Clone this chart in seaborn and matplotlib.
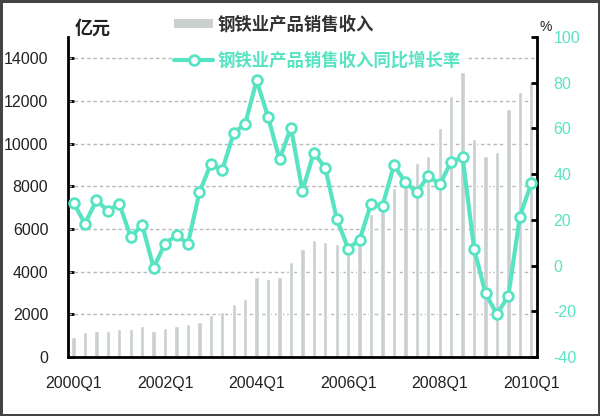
import numpy as np
import pandas as pd
import matplotlib
matplotlib.use("Agg")
import matplotlib.pyplot as plt
from matplotlib.lines import Line2D
from matplotlib.patches import Patch
import seaborn as sns

# datos (trimestral 2000Q1 - 2010Q1)
trimestres = [f"{a}Q{q}" for a in range(2000, 2011) for q in range(1, 5)][:41]
ingresos = [950, 1190, 1200, 1200, 1300, 1300, 1460, 1220, 1360, 1470,
            1540, 1630, 1950, 2100, 2460, 2720, 3740, 3670, 3740, 4430,
            5060, 5480, 5380, 5300, 5250, 5500, 6700, 7200, 7900, 8300,
            9100, 9420, 10730, 12240, 13400, 10200, 9430, 9600, 11610, 12440,
            12870]
crecimiento = [27.5, 18.3, 28.5, 24.0, 27.0, 12.5, 17.8, -1.0, 9.6, 13.2,
               9.6, 32.0, 44.5, 41.8, 58.0, 62.0, 81.0, 65.0, 46.5, 60.3,
               32.7, 49.4, 42.7, 20.4, 7.4, 11.3, 27.0, 26.2, 43.8, 36.5,
               32.0, 39.3, 35.5, 45.3, 47.5, 7.4, -12.2, -21.3, -13.2, 21.4,
               36.0]
etiquetas_x = ["2000Q1", "2002Q1", "2004Q1", "2006Q1", "2008Q1", "2010Q1"]
ticks_izq = [0, 2000, 4000, 6000, 8000, 10000, 12000, 14000]
ticks_der = [-40, -20, 0, 20, 40, 60, 80, 100]

nombre_barra = "钢铁业产品销售收入"
nombre_linea = "钢铁业产品销售收入同比增长率"

df = pd.DataFrame({"trimestre": trimestres, "ingresos": ingresos,
                   "crecimiento": crecimiento})
df["pos"] = np.arange(len(df))

sns.set_style("white")
plt.rcParams["font.family"] = ["Liberation Sans Narrow", "Liberation Sans", "DejaVu Sans"]
cjk = ["Noto Sans CJK SC", "DejaVu Sans"]

gris = "#cacfcf"
turquesa = "#58e3c3"

fig = plt.figure(figsize=(6.0, 4.16), dpi=100)
fig.patch.set_edgecolor("#444444")
fig.patch.set_linewidth(2.5)
ax = fig.add_axes([0.113, 0.142, 0.782, 0.769])

sns.barplot(data=df, x="trimestre", y="ingresos", color=gris, width=0.38,
            saturation=1, ax=ax, zorder=2)
ax.set_xlim(-0.5, len(df) - 0.5)
ax.set_ylim(0, 15000)
ax.set_yticks(ticks_izq)
ax.set_yticklabels([str(t) for t in ticks_izq], fontsize=11.5, color="#222222")
ax.set_xticks([trimestres.index(e) for e in etiquetas_x])
ax.set_xticklabels(etiquetas_x, fontsize=11.5, color="#222222")
ax.set_xlabel("")
ax.set_ylabel("")
for t in ticks_izq[1:]:
    ax.axhline(t, color="#b8b8b8", linestyle=(0, (2.5, 2)), linewidth=1.0, zorder=1)
ax.tick_params(axis="y", direction="in", length=4, width=2, color="black", pad=14)
ax.tick_params(axis="x", direction="in", length=0, pad=14)
ax.set_xticks(np.arange(1.5, len(df), 2), minor=True)
ax.tick_params(axis="x", which="minor", direction="in", length=3, width=2, color="black")
for lado in ["left", "bottom"]:
    ax.spines[lado].set_linewidth(2)
    ax.spines[lado].set_color("black")
ax.spines["top"].set_visible(False)
ax.spines["right"].set_visible(False)

ax2 = ax.twinx()
sns.lineplot(data=df, x="pos", y="crecimiento", color=turquesa, linewidth=3,
             marker="o", markersize=7, markerfacecolor="white",
             markeredgecolor=turquesa, markeredgewidth=2, ax=ax2, zorder=3)
ax2.set_ylim(-40, 100)
ax2.set_yticks(ticks_der)
ax2.set_yticklabels([str(t) for t in ticks_der], fontsize=11.5, color=turquesa)
ax2.set_xlabel("")
ax2.set_ylabel("")
ax2.tick_params(axis="y", direction="in", length=4, width=2, color="black", pad=12)
ax2.spines["right"].set_linewidth(2)
ax2.spines["right"].set_color("black")
for lado in ["left", "top", "bottom"]:
    ax2.spines[lado].set_visible(False)

fig.text(0.125, 0.932, "亿元", fontsize=13, fontweight="bold", family=cjk,
         color="#222222", ha="left", va="center")
fig.text(0.900, 0.935, "%", fontsize=10, color="#222222", ha="left", va="center")

handles = [Patch(facecolor=gris, edgecolor="none"),
           Line2D([], [], color=turquesa, linewidth=3, marker="o", markersize=7,
                  markerfacecolor="white", markeredgecolor=turquesa,
                  markeredgewidth=2)]
leg = fig.legend(handles, [nombre_barra, nombre_linea], loc="upper left",
                 bbox_to_anchor=(0.272, 0.99), frameon=True, framealpha=1,
                 edgecolor="white", fancybox=False, handlelength=2.2,
                 handleheight=0.45, handletextpad=0.3, labelspacing=1.03,
                 borderpad=0.15,
                 prop={"family": cjk, "size": 12.5, "weight": "bold"})
leg.get_texts()[0].set_color("#333333")
leg.get_texts()[1].set_color(turquesa)
leg.set_zorder(5)

fig.savefig("out.png", dpi=100)
